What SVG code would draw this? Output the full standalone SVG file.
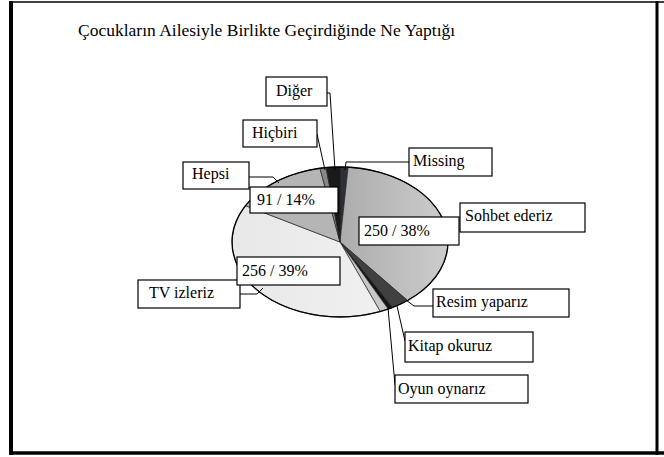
<svg xmlns="http://www.w3.org/2000/svg" width="664" height="457" viewBox="0 0 664 457">
<style>
text{font-family:"Liberation Serif","Times New Roman","DejaVu Serif",serif;fill:#000}
.t{font-size:17.5px}
.l{font-size:16px}
.box{fill:#fff;stroke:#000;stroke-width:1.2}
.ld{fill:none;stroke:#000;stroke-width:1}
.s{stroke:#222;stroke-width:0.7}
</style>
<defs>
<linearGradient id="gS" x1="0" y1="0" x2="1" y2="0">
<stop offset="0" stop-color="#acacac"/>
<stop offset="1" stop-color="#cdcdcd"/>
</linearGradient>
<linearGradient id="gT" x1="0" y1="0" x2="1" y2="0">
<stop offset="0" stop-color="#e8e8e8"/>
<stop offset="1" stop-color="#f0f0f0"/>
</linearGradient>
</defs>
<rect x="0" y="0" width="664" height="457" fill="#fff"/>
<g id="frame">
<line x1="11" y1="1" x2="11" y2="455" stroke="#000" stroke-width="4"/>
<line x1="9" y1="2" x2="664" y2="2" stroke="#000" stroke-width="1.5"/>
<line x1="9" y1="453" x2="664" y2="453" stroke="#000" stroke-width="3.5"/>
<line x1="657" y1="1" x2="657" y2="455" stroke="#000" stroke-width="3"/>
</g>
<text class="t" x="78" y="36">Çocukların Ailesiyle Birlikte Geçirdiğinde Ne Yaptığı</text>
<g id="pie">
<path id="s-missing" class="s" fill="#2d3038" d="M340,242 L340,167 A108,75 0 0 1 348.1,167.21 Z"/>
<path id="s-sohbet" class="s" fill="url(#gS)" d="M340,242 L348.1,167.21 A108,75 0 0 1 407.52,300.53 Z"/>
<path id="s-resim" class="s" fill="#404040" d="M340,242 L407.52,300.53 A108,75 0 0 1 392.36,307.6 Z"/>
<path id="s-kitap" class="s" fill="#141414" d="M340,242 L392.36,307.6 A108,75 0 0 1 388.19,309.12 Z"/>
<path id="s-oyun" class="s" fill="#c8c8c8" d="M340,242 L388.19,309.12 A108,75 0 0 1 380.29,311.59 Z"/>
<path id="s-tv" class="s" fill="url(#gT)" d="M340,242 L380.29,311.59 A108,75 0 0 1 245.54,205.64 Z"/>
<path id="s-hepsi" class="s" fill="#b5b5b5" d="M340,242 L245.54,205.64 A108,75 0 0 1 319.95,168.31 Z"/>
<path id="s-hicbiri" class="s" fill="#878787" d="M340,242 L319.95,168.31 A108,75 0 0 1 326.09,167.62 Z"/>
<path id="s-diger" class="s" fill="#1a1a1a" d="M340,242 L326.09,167.62 A108,75 0 0 1 340,167 Z"/>
<ellipse cx="340" cy="242" rx="108" ry="75" fill="none" stroke="#000" stroke-width="1.3"/>
</g>
<g id="connectors">
<polyline class="ld" points="327,93 330,93 335,170"/>
<polyline class="ld" points="317,134 325,170"/>
<polyline class="ld" points="409,162 346,162 345,170"/>
<polyline class="ld" points="249,177 273,177 279,183"/>
<polyline class="ld" points="240,294 257,294 263,288"/>
<polyline class="ld" points="406,300 414,306 433,306"/>
<polyline class="ld" points="397,306 405,341"/>
<polyline class="ld" points="388,308 395,385"/>
</g>
<g id="n-diger"><rect class="box" x="266" y="77" width="61" height="29"/><text class="l" x="276" y="96">Diğer</text></g>
<g id="n-hicbiri"><rect class="box" x="243" y="120" width="74" height="27"/><text class="l" x="252" y="138">Hiçbiri</text></g>
<g id="n-missing"><rect class="box" x="409" y="148" width="83" height="28"/><text class="l" x="413" y="166">Missing</text></g>
<g id="n-hepsi"><rect class="box" x="183" y="162" width="66" height="27"/><text class="l" x="192" y="179">Hepsi</text></g>
<g id="n-hepsi-val"><rect class="box" x="250" y="187" width="88" height="26"/><text class="l" x="257" y="205">91 / 14%</text></g>
<g id="n-sohbet"><rect class="box" x="460" y="203" width="125" height="29"/><text class="l" x="465" y="221">Sohbet ederiz</text></g>
<g id="n-sohbet-val"><rect class="box" x="359" y="217" width="100" height="28"/><text class="l" x="364" y="236">250 / 38%</text></g>
<g id="n-tv"><rect class="box" x="138" y="280" width="102" height="28"/><text class="l" x="149" y="298">TV izleriz</text></g>
<g id="n-tv-val"><rect class="box" x="237" y="257" width="103" height="28"/><text class="l" x="242" y="276">256 / 39%</text></g>
<g id="n-resim"><rect class="box" x="433" y="289" width="136" height="28"/><text class="l" x="436" y="307">Resim yaparız</text></g>
<g id="n-kitap"><rect class="box" x="405" y="332" width="128" height="30"/><text class="l" x="408" y="351">Kitap okuruz</text></g>
<g id="n-oyun"><rect class="box" x="395" y="375" width="133" height="28"/><text class="l" x="398" y="394">Oyun oynarız</text></g>
</svg>
